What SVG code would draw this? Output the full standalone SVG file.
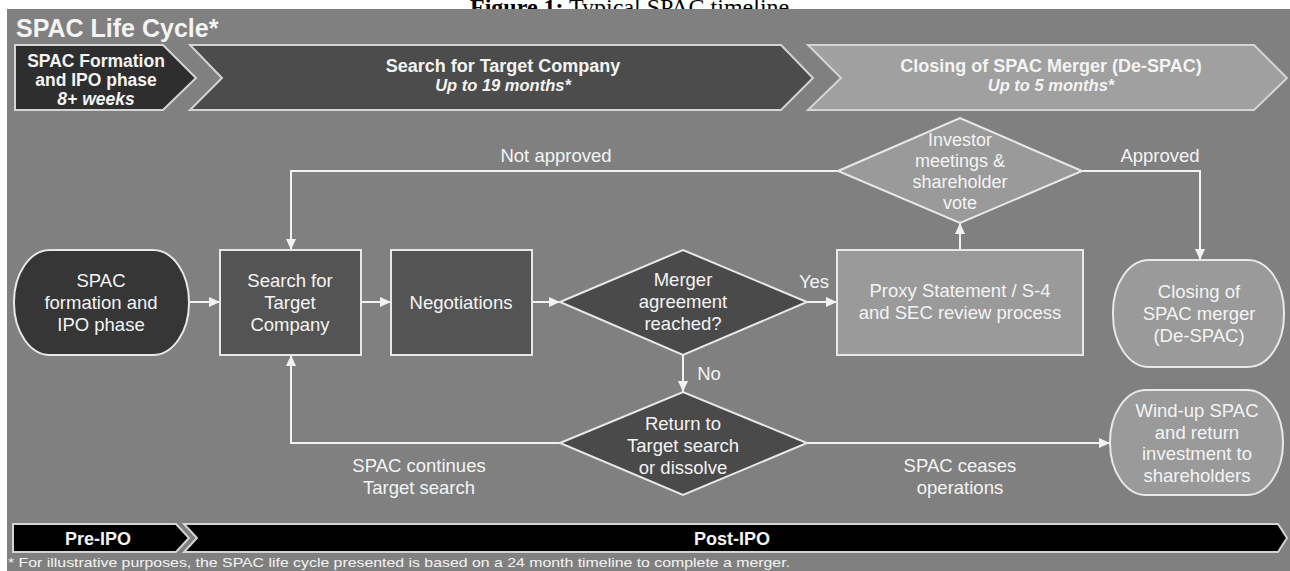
<svg xmlns="http://www.w3.org/2000/svg" width="1290" height="571" viewBox="0 0 1290 571">
<defs>
<style>
.cap{font-family:"Liberation Serif","Times New Roman",serif;font-size:24px;fill:#000}
.t{font-family:"Liberation Sans",Arial,sans-serif;fill:#f4f4f4;text-anchor:middle}
.n{font-size:18.5px}
.b{font-weight:bold}
.bi{font-weight:bold;font-style:italic}
.node{stroke:#e8e8e8;stroke-width:2}
.ban{stroke:#d4d4d4;stroke-width:2}
.c{stroke:#f2f2f2;stroke-width:2;fill:none}
</style>
<marker id="ah" markerUnits="userSpaceOnUse" markerWidth="12" markerHeight="10" refX="11" refY="5" orient="auto">
<path d="M0,0 L11,5 L0,10 z" fill="#f2f2f2"/>
</marker>
</defs>
<rect x="0" y="0" width="1290" height="571" fill="#ffffff"/>
<text class="cap" x="470" y="15"><tspan font-weight="bold">Figure 1:</tspan> Typical SPAC timeline</text>
<rect x="7" y="9" width="1283" height="562" fill="#808080"/>
<text class="t b" x="16" y="37" font-size="25" style="text-anchor:start">SPAC Life Cycle*</text>

<g id="banner-formation">
<path class="ban" d="M15,45 L163,45 L196,78 L163,110 L15,110 Z" fill="#2e2e2e"/>
<text class="t b" x="96" y="67" font-size="17.5">SPAC Formation</text>
<text class="t b" x="96" y="86" font-size="17.5">and IPO phase</text>
<text class="t bi" x="96" y="105" font-size="17.5">8+ weeks</text>
</g>
<g id="banner-search">
<path class="ban" d="M190,45 L781,45 L813,78 L781,110 L190,110 L222,78 Z" fill="#4c4c4c"/>
<text class="t b" x="503" y="72" font-size="18">Search for Target Company</text>
<text class="t bi" x="503" y="91" font-size="16.5">Up to 19 months*</text>
</g>
<g id="banner-closing">
<path class="ban" d="M808,45 L1254,45 L1287,78 L1254,110 L808,110 L841,78 Z" fill="#a0a0a0"/>
<text class="t b" x="1051" y="72" font-size="18">Closing of SPAC Merger (De-SPAC)</text>
<text class="t bi" x="1051" y="91" font-size="16.5">Up to 5 months*</text>
</g>

<g id="connectors">
<line class="c" x1="189" y1="302" x2="220" y2="302" marker-end="url(#ah)"/>
<line class="c" x1="361" y1="302" x2="391" y2="302" marker-end="url(#ah)"/>
<line class="c" x1="532" y1="302" x2="560" y2="302" marker-end="url(#ah)"/>
<line class="c" x1="807" y1="302" x2="837" y2="302" marker-end="url(#ah)"/>
<line class="c" x1="960" y1="250" x2="960" y2="223" marker-end="url(#ah)"/>
<polyline class="c" points="838,171 291,171 291,250" marker-end="url(#ah)"/>
<polyline class="c" points="1082,171 1200,171 1200,260" marker-end="url(#ah)"/>
<line class="c" x1="683" y1="355" x2="683" y2="392" marker-end="url(#ah)"/>
<polyline class="c" points="560,443 291,443 291,355" marker-end="url(#ah)"/>
<line class="c" x1="807" y1="443" x2="1110" y2="443" marker-end="url(#ah)"/>
<text class="t n" x="556" y="162">Not approved</text>
<text class="t n" x="1160" y="162">Approved</text>
<text class="t n" x="814" y="288">Yes</text>
<text class="t n" x="709" y="380">No</text>
<text class="t n" x="419" y="472">SPAC continues</text>
<text class="t n" x="419" y="494">Target search</text>
<text class="t n" x="960" y="472">SPAC ceases</text>
<text class="t n" x="960" y="494">operations</text>
</g>

<g id="spac-formation">
<rect class="node" x="14" y="250" width="175" height="105" rx="36" ry="52" fill="#363636"/>
<text class="t n" x="101" y="287">SPAC</text>
<text class="t n" x="101" y="309">formation and</text>
<text class="t n" x="101" y="331">IPO phase</text>
</g>
<g id="search-target">
<rect class="node" x="220" y="250" width="141" height="105" fill="#545454"/>
<text class="t n" x="290" y="287">Search for</text>
<text class="t n" x="290" y="309">Target</text>
<text class="t n" x="290" y="331">Company</text>
</g>
<g id="negotiations">
<rect class="node" x="391" y="250" width="141" height="105" fill="#545454"/>
<text class="t n" x="461" y="309">Negotiations</text>
</g>
<g id="merger-agreement">
<path class="node" d="M560,302 L683,250 L807,302 L683,355 Z" fill="#4a4a4a"/>
<text class="t n" x="683" y="286">Merger</text>
<text class="t n" x="683" y="308">agreement</text>
<text class="t n" x="683" y="330">reached?</text>
</g>
<g id="proxy-statement">
<rect class="node" x="837" y="250" width="246" height="105" fill="#9a9a9a"/>
<text class="t n" x="960" y="297">Proxy Statement / S-4</text>
<text class="t n" x="960" y="319">and SEC review process</text>
</g>
<g id="investor-vote">
<path class="node" d="M838,171 L960,118 L1082,171 L960,223 Z" fill="#9a9a9a"/>
<text class="t" font-size="18" x="960" y="146">Investor</text>
<text class="t" font-size="18" x="960" y="166.5">meetings &amp;</text>
<text class="t" font-size="18" x="960" y="187.5">shareholder</text>
<text class="t" font-size="18" x="960" y="208.5">vote</text>
</g>
<g id="closing-merger">
<rect class="node" x="1113" y="260" width="171" height="107" rx="36" ry="52" fill="#9a9a9a"/>
<text class="t n" x="1199" y="298">Closing of</text>
<text class="t n" x="1199" y="320">SPAC merger</text>
<text class="t n" x="1199" y="342">(De-SPAC)</text>
</g>
<g id="return-dissolve">
<path class="node" d="M560,443 L683,392 L807,443 L683,495 Z" fill="#4a4a4a"/>
<text class="t n" x="683" y="430">Return to</text>
<text class="t n" x="683" y="452">Target search</text>
<text class="t n" x="683" y="474">or dissolve</text>
</g>
<g id="wind-up">
<rect class="node" x="1110" y="390" width="173" height="105" rx="36" ry="52" fill="#9a9a9a"/>
<text class="t n" x="1197" y="417">Wind-up SPAC</text>
<text class="t n" x="1197" y="438.5">and return</text>
<text class="t n" x="1197" y="460">investment to</text>
<text class="t n" x="1197" y="481.5">shareholders</text>
</g>

<g id="pre-ipo">
<path class="ban" d="M13,524 L176,524 L189,538 L176,552 L13,552 Z" fill="#000"/>
<text class="t b" x="98" y="545" font-size="18">Pre-IPO</text>
</g>
<g id="post-ipo">
<path class="ban" d="M184,524 L1278,524 L1287,538 L1278,552 L184,552 L197,538 Z" fill="#000"/>
<text class="t b" x="732" y="545" font-size="18">Post-IPO</text>
</g>
<text class="t" x="8" y="567" font-size="13" style="text-anchor:start" textLength="782" lengthAdjust="spacingAndGlyphs">* For illustrative purposes, the SPAC life cycle presented is based on a 24 month timeline to complete a merger.</text>
</svg>
